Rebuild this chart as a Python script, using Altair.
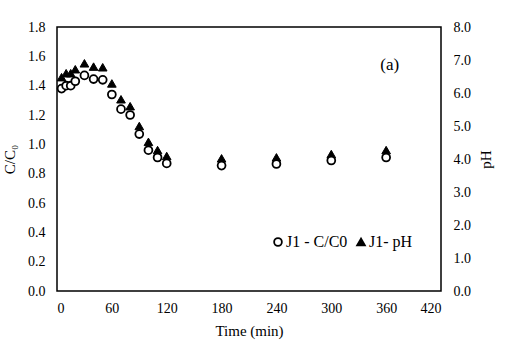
import altair as alt
import pandas as pd

times = [5, 10, 15, 20, 30, 40, 50, 60, 70, 80, 90, 100, 110, 120, 180, 240, 300, 360]
c_ratio = [1.38, 1.40, 1.40, 1.43, 1.47, 1.445, 1.44, 1.34, 1.24, 1.20, 1.07, 0.96, 0.91, 0.87, 0.855, 0.866, 0.89, 0.91]
ph = [6.48, 6.60, 6.60, 6.72, 6.90, 6.80, 6.78, 6.29, 5.81, 5.60, 5.00, 4.52, 4.27, 4.09, 4.02, 4.05, 4.15, 4.27]
series_names = ["J1 - C/C0", "J1- pH"]
x_ticks = [0, 60, 120, 180, 240, 300, 360, 420]
left_ticks = [0.0, 0.2, 0.4, 0.6, 0.8, 1.0, 1.2, 1.4, 1.6, 1.8]
right_ticks = [0, 1, 2, 3, 4, 5, 6, 7, 8]

df_c = pd.DataFrame({"t": times, "v": c_ratio, "s": series_names[0]})
df_p = pd.DataFrame({"t": times, "v": ph, "s": series_names[1]})
df_lab = pd.DataFrame({"t": [364], "v": [1.54], "label": ["(a)"]})

FONT = "Liberation Serif"

x_axis = alt.Axis(values=x_ticks, title="Time (min)", grid=False, ticks=False,
                  domain=False, labelPadding=10, titlePadding=8, labelOverlap=False)
x_enc = alt.X("t:Q", scale=alt.Scale(domain=[0, 420], nice=False), axis=x_axis)

left_axis = alt.Axis(orient="left", values=left_ticks, format=".1f", title="C/C₀",
                     grid=False, ticks=False, domain=False, labelPadding=12, titlePadding=10,
                     labelOverlap=False)
left_scale = alt.Scale(domain=[0, 1.8], nice=False)

shape_scale = alt.Scale(domain=series_names, range=["circle", "triangle-up"])
fill_scale = alt.Scale(domain=series_names, range=["white", "black"])
stroke_scale = alt.Scale(domain=series_names, range=["black", "black"])
legend = alt.Legend(title=None, orient="none", legendX=213, legendY=207, direction="horizontal",
                    labelFont=FONT, labelFontSize=16, labelColor="black", symbolSize=60,
                    symbolStrokeWidth=1.8, columnPadding=5, labelOffset=0)

tri = alt.Chart(df_p).mark_point(size=75, strokeWidth=1, filled=False, opacity=1).encode(
    x=x_enc,
    y=alt.Y("v:Q", scale=alt.Scale(domain=[0, 8], nice=False),
            axis=alt.Axis(orient="right", values=right_ticks, format=".1f", title="pH", titleAngle=270,
                          grid=False, ticks=False, domain=False, labelPadding=12, titlePadding=23,
                          labelOverlap=False)),
    shape=alt.Shape("s:N", scale=shape_scale, legend=legend),
    fill=alt.Fill("s:N", scale=fill_scale, legend=legend),
    stroke=alt.Stroke("s:N", scale=stroke_scale, legend=legend),
)

circ = alt.Chart(df_c).mark_point(size=62, strokeWidth=1.8, filled=False, opacity=1).encode(
    x=x_enc,
    y=alt.Y("v:Q", scale=left_scale, axis=left_axis),
    shape=alt.Shape("s:N", scale=shape_scale, legend=legend),
    fill=alt.Fill("s:N", scale=fill_scale, legend=legend),
    stroke=alt.Stroke("s:N", scale=stroke_scale, legend=legend),
)

lab = alt.Chart(df_lab).mark_text(font=FONT, fontSize=17, color="black").encode(
    x=x_enc,
    y=alt.Y("v:Q", scale=left_scale, axis=left_axis),
    text="label:N",
)

left_layer = alt.layer(circ, lab)

chart = alt.layer(tri, left_layer).resolve_scale(y="independent").properties(
    width=384, height=264,
    autosize=alt.AutoSizeParams(type="none"),
    padding={"left": 57, "top": 27, "right": 65, "bottom": 60},
    background="white",
).configure_view(stroke="black", strokeWidth=1.5).configure_axis(
    labelFont=FONT, labelFontSize=14, labelColor="black",
    titleFont=FONT, titleFontSize=15, titleColor="black", titleFontWeight="normal",
)

chart.save("out.html", embed_options={"renderer": "svg", "actions": False})
